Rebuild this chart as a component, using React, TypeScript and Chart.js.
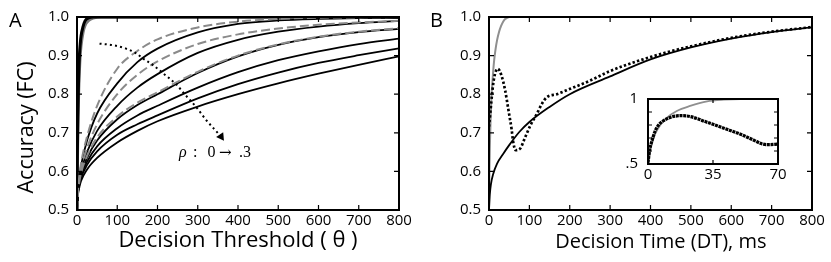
import React, { useEffect, useRef } from 'react';
import { Chart, registerables } from 'chart.js';

Chart.register(...registerables);

const SANS = "'Open Sans', 'DejaVu Sans', sans-serif";
const SERIF = "'Liberation Serif', 'DejaVu Serif', serif";

// ---------- Panel A : accuracy vs decision threshold ----------
const thetaTicks = [0, 100, 200, 300, 400, 500, 600, 700, 800];
const accTicks = [0.5, 0.6, 0.7, 0.8, 0.9, 1.0];

const theta = [0, 2, 5, 10, 25, 50, 100, 150, 200, 300, 400, 500, 600, 700, 800];
const solid1 = [0.5, 0.552, 0.58, 0.615, 0.68, 0.75, 0.828, 0.883, 0.918, 0.96, 0.982, 0.991, 0.995, 0.997, 0.998];
const solid2 = [0.5, 0.547, 0.57, 0.6, 0.65, 0.705, 0.77, 0.817, 0.852, 0.907, 0.941, 0.962, 0.975, 0.984, 0.99];
const solid3 = [0.5, 0.544, 0.566, 0.592, 0.635, 0.68, 0.735, 0.772, 0.8, 0.855, 0.898, 0.928, 0.948, 0.961, 0.969];
const solid4 = [0.5, 0.542, 0.563, 0.587, 0.625, 0.665, 0.712, 0.745, 0.77, 0.817, 0.857, 0.888, 0.911, 0.93, 0.944];
const solid5 = [0.5, 0.54, 0.56, 0.582, 0.617, 0.652, 0.695, 0.722, 0.745, 0.789, 0.826, 0.856, 0.881, 0.901, 0.919];
const solid6 = [0.5, 0.535, 0.555, 0.575, 0.605, 0.635, 0.675, 0.705, 0.73, 0.768, 0.8, 0.828, 0.853, 0.876, 0.898];
const dashed1 = [0.5, 0.55, 0.58, 0.62, 0.69, 0.77, 0.866, 0.912, 0.942, 0.973, 0.988, 0.995, 0.998, 0.999, 1.0];
const dashed2 = [0.5, 0.548, 0.575, 0.605, 0.66, 0.722, 0.8, 0.85, 0.885, 0.93, 0.955, 0.97, 0.98, 0.986, 0.99];
const dashed3 = [0.5, 0.545, 0.568, 0.595, 0.64, 0.688, 0.742, 0.778, 0.805, 0.858, 0.9, 0.929, 0.949, 0.962, 0.971];

const steepBlackTheta = [0, 1, 2, 4, 6, 8, 10, 15, 20, 30, 40, 800];
const steepBlack = [0.5, 0.65, 0.74, 0.84, 0.9, 0.93, 0.95, 0.975, 0.99, 0.998, 1.0, 1.0];
const steepGreyTheta = [0, 1, 2, 4, 6, 8, 10, 15, 20, 30, 40, 60, 800];
const steepGrey = [0.5, 0.62, 0.7, 0.8, 0.86, 0.9, 0.925, 0.96, 0.978, 0.992, 0.997, 1.0, 1.0];

const arrowTheta = [56, 89, 122, 147, 163, 188, 213, 246, 271, 296, 321, 346, 358];
const arrowAcc = [0.931, 0.927, 0.918, 0.906, 0.893, 0.876, 0.855, 0.826, 0.796, 0.767, 0.733, 0.704, 0.69];

// ---------- Panel B : accuracy vs decision time ----------
const dtTicks = [0, 100, 200, 300, 400, 500, 600, 700, 800];
const dtSolidX = [0, 2, 5, 10, 20, 35, 50, 75, 100, 150, 200, 300, 400, 500, 600, 700, 800];
const dtSolid = [0.5, 0.54, 0.568, 0.592, 0.62, 0.645, 0.668, 0.702, 0.728, 0.767, 0.8, 0.846, 0.89, 0.921, 0.944, 0.961, 0.973];
const dtGreyX = [0, 1, 2, 4, 6, 8, 10, 13, 16, 20, 25, 30, 35, 40, 45, 50];
const dtGrey = [0.5, 0.6, 0.66, 0.735, 0.79, 0.825, 0.855, 0.89, 0.915, 0.94, 0.962, 0.977, 0.988, 0.995, 0.998, 1.0];
const dtDotX = [0, 11, 19, 22, 31, 40, 48, 56, 60, 66, 77, 89, 102, 118, 131, 143, 168, 201, 250, 300, 366, 432, 500, 600, 700, 800];
const dtDot = [0.716, 0.831, 0.864, 0.866, 0.848, 0.81, 0.76, 0.709, 0.676, 0.655, 0.659, 0.687, 0.718, 0.748, 0.775, 0.792, 0.8, 0.814, 0.835, 0.86, 0.885, 0.906, 0.924, 0.946, 0.962, 0.974];

// ---------- Inset ----------
const insetXTicks = [0, 35, 70];
const insetYTicks = [0.5, 0.6, 0.7, 0.8, 0.9, 1.0];
const insetYLabels: Record<string, string> = { '0.5': '.5', '1': '1' };
const insetDotX = [0, 1, 2, 3.8, 5.6, 8.3, 11.9, 15.5, 18.2, 22.7, 31.8, 40.8, 49.8, 57, 61.6, 65.2, 70];
const insetDot = [0.511, 0.615, 0.672, 0.752, 0.798, 0.833, 0.858, 0.87, 0.872, 0.865, 0.821, 0.775, 0.729, 0.683, 0.654, 0.649, 0.653];
const insetGreyX = [0, 1.1, 3.8, 6.5, 10.1, 15.5, 22.7, 31.8, 40.8, 49.8, 70];
const insetGrey = [0.5, 0.603, 0.729, 0.798, 0.855, 0.908, 0.947, 0.982, 0.995, 1.0, 1.0];

const xy = (xs: number[], ys: number[]) => xs.map((x, i) => ({ x, y: ys[i] }));

const line = (data: any[], color: string, width: number, dash: number[] = []) => ({
  data,
  borderColor: color,
  borderWidth: width,
  borderDash: dash,
  borderCapStyle: 'butt',
  borderJoinStyle: 'round',
  pointRadius: 0,
  fill: false,
  cubicInterpolationMode: 'monotone',
});

function frameTicks(len: number, tickW: number, frameW: number, whiteBg = false) {
  return {
    id: 'frameTicks',
    beforeDatasetsDraw(chart: any) {
      if (!whiteBg) return;
      const { ctx, chartArea: a } = chart;
      ctx.save();
      ctx.fillStyle = '#fff';
      ctx.fillRect(a.left, a.top, a.right - a.left, a.bottom - a.top);
      ctx.restore();
    },
    afterDatasetsDraw(chart: any) {
      const { ctx, chartArea: a } = chart;
      const xs = chart.scales.x;
      const ys = chart.scales.y;
      ctx.save();
      ctx.strokeStyle = '#000';
      ctx.lineWidth = tickW;
      ctx.beginPath();
      xs.ticks.forEach((t: any) => {
        const p = xs.getPixelForValue(t.value);
        ctx.moveTo(p, a.bottom);
        ctx.lineTo(p, a.bottom - len);
        ctx.moveTo(p, a.top);
        ctx.lineTo(p, a.top + len);
      });
      ys.ticks.forEach((t: any) => {
        const p = ys.getPixelForValue(t.value);
        ctx.moveTo(a.left, p);
        ctx.lineTo(a.left + len, p);
        ctx.moveTo(a.right, p);
        ctx.lineTo(a.right - len, p);
      });
      ctx.stroke();
      ctx.lineWidth = frameW;
      ctx.strokeRect(a.left, a.top, a.right - a.left, a.bottom - a.top);
      ctx.restore();
    },
  };
}

function textPlugin(draw: (ctx: CanvasRenderingContext2D) => void) {
  return {
    id: 'texts',
    afterDraw(chart: any) {
      const ctx = chart.ctx as CanvasRenderingContext2D;
      ctx.save();
      ctx.fillStyle = '#000';
      ctx.textBaseline = 'alphabetic';
      ctx.textAlign = 'left';
      draw(ctx);
      ctx.restore();
    },
  };
}

const tickFont = { family: SANS, size: 15 };

const setTicks = (vals: number[]) => (scale: any) => {
  scale.ticks = vals.map((v) => ({ value: v }));
};

const baseOptions = {
  responsive: false,
  animation: false,
  devicePixelRatio: 1,
  events: [],
  plugins: { legend: { display: false }, tooltip: { enabled: false } },
};

function xScale(min: number, max: number, ticks: number[], height: number, title?: string, titleSize = 21) {
  return {
    type: 'linear',
    min,
    max,
    afterBuildTicks: setTicks(ticks),
    ticks: { padding: 2, font: tickFont, color: '#000', maxRotation: 0, autoSkip: false },
    grid: { display: false, drawTicks: false },
    border: { display: false },
    title: title
      ? { display: true, text: title, font: { family: SANS, size: titleSize }, color: '#000', padding: { top: 0, bottom: 8 } }
      : { display: false },
    afterFit: (s: any) => {
      s.height = height;
    },
  };
}

function yScale(ticks: number[], width: number, cb: (v: any) => string, padding: number, title?: string) {
  return {
    type: 'linear',
    min: 0.5,
    max: 1.0,
    afterBuildTicks: setTicks(ticks),
    ticks: { padding, font: tickFont, color: '#000', autoSkip: false, callback: cb },
    grid: { display: false, drawTicks: false },
    border: { display: false },
    title: title
      ? { display: true, text: title, font: { family: SANS, size: 21.5 }, color: '#000', padding: { top: 14, bottom: 0 } }
      : { display: false },
    afterFit: (s: any) => {
      s.width = width;
    },
  };
}

const oneDecimal = (v: any) => Number(v).toFixed(1);

function configA(): any {
  return {
    type: 'line',
    data: {
      datasets: [
        {
          ...line(xy(arrowTheta, arrowAcc), '#000', 2, [2, 3.2]),
          pointRadius: (c: any) => (c.dataIndex === arrowTheta.length - 1 ? 5 : 0),
          pointStyle: 'triangle',
          rotation: 145,
          pointBackgroundColor: '#000',
          pointBorderColor: '#000',
          pointBorderWidth: 0,
        },
        line(xy(theta, dashed1), '#8a8a8a', 2, [9, 4]),
        line(xy(theta, dashed2), '#8a8a8a', 2, [9, 4]),
        line(xy(theta, dashed3), '#8a8a8a', 2, [9, 4]),
        line(xy(theta, solid1), '#000', 1.8),
        line(xy(theta, solid2), '#000', 1.8),
        line(xy(theta, solid3), '#000', 1.8),
        line(xy(theta, solid4), '#000', 1.8),
        line(xy(theta, solid5), '#000', 1.8),
        line(xy(theta, solid6), '#000', 1.8),
        line(xy(steepBlackTheta, steepBlack), '#000', 3),
        line(xy(steepGreyTheta, steepGrey), '#7a7a7a', 3),
      ],
    },
    options: {
      ...baseOptions,
      layout: { padding: { left: 0, top: 11, right: 21, bottom: 0 } },
      scales: {
        x: xScale(0, 800, thetaTicks, 52, 'Decision Threshold ( θ )', 22),
        y: yScale(accTicks, 77, oneDecimal, 8, 'Accuracy (FC)     '),
      },
    },
    plugins: [
      frameTicks(5, 1.2, 2),
      textPlugin((ctx) => {
        ctx.font = `20px ${SANS}`;
        ctx.fillText('A', 9, 27);
        ctx.font = `italic 16px ${SERIF}`;
        ctx.fillText('ρ', 179, 157);
        ctx.font = `16px ${SERIF}`;
        ctx.fillText(':', 193, 157);
        ctx.fillText('0', 207.5, 157);
        ctx.fillText('.3', 239, 157);
        ctx.font = `15px 'DejaVu Serif', serif`;
        ctx.fillText('→', 219, 157);
      }),
    ],
  };
}

function configB(): any {
  return {
    type: 'line',
    data: {
      datasets: [
        line(xy(dtDotX, dtDot), '#000', 2.7, [2.4, 2.2]),
        line(xy(dtSolidX, dtSolid), '#000', 1.8),
        line(xy(dtGreyX, dtGrey), '#8f8f8f', 2),
      ],
    },
    options: {
      ...baseOptions,
      layout: { padding: { left: 0, top: 11, right: 19, bottom: 0 } },
      scales: {
        x: xScale(0, 800, dtTicks, 52, '    Decision Time (DT), ms', 20),
        y: yScale(accTicks, 69, oneDecimal, 8),
      },
    },
    plugins: [
      frameTicks(5, 1.2, 2),
      textPlugin((ctx) => {
        ctx.font = `20px ${SANS}`;
        ctx.fillText('B', 10, 27);
      }),
    ],
  };
}

function configInset(): any {
  return {
    type: 'line',
    data: {
      datasets: [
        line(xy(insetDotX, insetDot), '#000', 3.2, [3, 0.7]),
        line(xy(insetGreyX, insetGrey), '#8f8f8f', 1.8),
      ],
    },
    options: {
      ...baseOptions,
      layout: { padding: { left: 0, top: 12, right: 12, bottom: 0 } },
      scales: {
        x: xScale(0, 70, insetXTicks, 26),
        y: yScale(insetYTicks, 48, (v: any) => insetYLabels[String(Number(Number(v).toFixed(2)))] ?? '', 10),
      },
    },
    plugins: [frameTicks(4, 1.2, 2, true)],
  };
}

export default function App() {
  const aRef = useRef<HTMLCanvasElement>(null);
  const bRef = useRef<HTMLCanvasElement>(null);
  const iRef = useRef<HTMLCanvasElement>(null);

  useEffect(() => {
    const charts = [
      new Chart(aRef.current!, configA()),
      new Chart(bRef.current!, configB()),
      new Chart(iRef.current!, configInset()),
    ];
    return () => charts.forEach((c) => c.destroy());
  }, []);

  return (
    <div style={{ position: 'absolute', left: 0, top: 0, width: 831, height: 262, background: '#fff' }}>
      <canvas ref={aRef} width={420} height={262} style={{ position: 'absolute', left: 0, top: 0, width: 420, height: 262 }} />
      <canvas ref={bRef} width={411} height={262} style={{ position: 'absolute', left: 420, top: 0, width: 411, height: 262 }} />
      <canvas ref={iRef} width={190} height={110} style={{ position: 'absolute', left: 600, top: 80, width: 190, height: 110 }} />
    </div>
  );
}
